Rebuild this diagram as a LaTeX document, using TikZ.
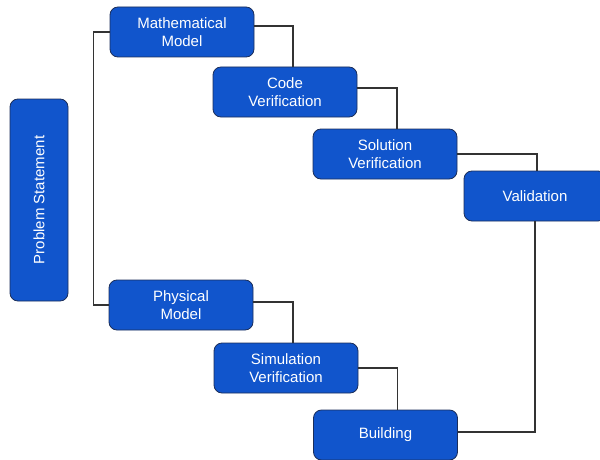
\documentclass[tikz,border=0pt]{standalone}
\usepackage{fontspec}
\setmainfont{Liberation Sans}
\definecolor{boxblue}{HTML}{1155CC}
\definecolor{boxedge}{HTML}{1B2E5A}
\definecolor{wire}{HTML}{333333}
\begin{document}
\begin{tikzpicture}[x=1pt,y=-1pt,
  blk/.style={draw=boxedge,line width=0.8pt,fill=boxblue,rounded corners=8pt,
    text=white,align=center,font=\fontsize{15}{18}\selectfont,inner sep=0pt,
    minimum width=144pt,minimum height=50pt},
  wirel/.style={draw=wire,line width=1.2pt}]
\useasboundingbox (0,0) rectangle (600,460);
\clip (0,0) rectangle (600,460);
\node[blk,minimum width=58pt,minimum height=202pt] (ps) at (39,200) {};
\node[rotate=90,text=white,font=\fontsize{15}{18}\selectfont] (pst) at (39,200) {Problem Statement};
\node[blk] (mm) at (182,32) {Mathematical\\Model};
\node[blk] (cv) at (285,92) {Code\\Verification};
\node[blk] (sv) at (385,154) {Solution\\Verification};
\node[blk,minimum width=142pt] (va) at (535,196) {Validation};
\node[blk] (pm) at (181,305) {Physical\\Model};
\node[blk] (simv) at (286,368) {Simulation\\Verification};
\node[blk] (bu) at (385.5,435) {Building};
\draw[wirel] (mm.west) -- ++(-16,0) |- (pm.west);
\draw[wirel] ([yshift=6pt]mm.east) -| ([xshift=8pt]cv.north);
\draw[wirel] ([yshift=4pt]cv.east) -| ([xshift=12pt]sv.north);
\draw[wirel] (sv.east) -| ([xshift=2pt]va.north);
\draw[wirel] (va.south) |- ([yshift=3pt]bu.east);
\draw[wirel] ([yshift=3pt]pm.east) -| ([xshift=7pt]simv.north);
\draw[wirel] (simv.east) -| ([xshift=12pt]bu.north);
\end{tikzpicture}
\end{document}
